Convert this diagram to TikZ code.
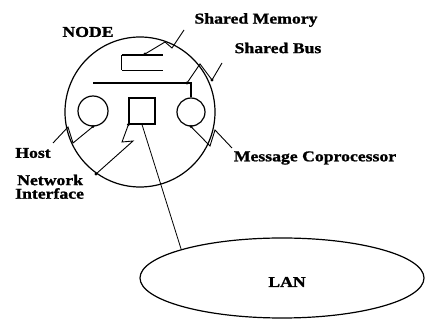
\documentclass[tikz,border=0pt]{standalone}
\usepackage{fontspec}
\setmainfont{Liberation Serif}[FakeStretch=1.18, BoldFeatures={FakeBold=1.2}]
\usetikzlibrary{shapes.geometric}
\begin{document}
\begin{tikzpicture}[x=1pt,y=-1pt,
 lbl/.style={font=\fontsize{15}{13}\selectfont\bfseries, inner sep=0pt},
 ring/.style={draw, circle, line width=1.2pt, inner sep=0pt},
 ptr/.style={line width=0.9pt, line join=miter},
 dot/.style={circle, fill, inner sep=0pt, minimum size=3.2pt}]
\useasboundingbox[fill=white] (0,0) rectangle (426,320);
% shapes
\node[ring, minimum size=150pt] (nd) at (140,112) {};
\node[ring, minimum size=30pt] (host) at (93,111) {};
\node[draw, line width=1.1pt, minimum size=26pt, inner sep=0pt] (ni) at (142,111) {};
\node[ring, minimum size=28pt] (mc) at (191,112) {};
\node[minimum width=41pt, minimum height=15pt, inner sep=0pt] (mem) at (142.5,62.5) {};
\draw[line width=0.8pt] (mem.north west) -- (mem.south west);
\draw[line width=1.5pt] (mem.north west) -- (mem.north east);
\draw[line width=1.1pt] (mem.south west) -- (mem.south east);
\node[draw, ellipse, line width=1.2pt, minimum width=284pt, minimum height=80pt, inner sep=0pt] (lan) at (282,278) {};
% labels
\node[lbl] (lanl) at (287,282) {LAN};
\node[lbl] (ndl) at (88,32) {NODE};
\node[lbl] (meml) at (256,20) {Shared Memory};
\node[lbl] (busl) at (278,48) {Shared Bus};
\node[lbl] (hostl) at (33,153) {Host};
\node[lbl, anchor=west] (nil1) at (17,180) {Network};
\node[lbl, anchor=west] (nil2) at (15,193.5) {Interface};
\node[lbl] (mcl) at (315,158) {Message Coprocessor};
% bus
\coordinate (bl) at (93,83);
\coordinate (br) at (191,83);
\draw[line width=1.2pt] (bl) -- (br) -- (mc.north);
% pointers
\coordinate (m1) at (184,30);
\coordinate (m2) at (145,54);
\draw[ptr] (m1) -- (172,48) -- (165,42) -- (m2);
\node[dot] (d1) at (m2) {};
\coordinate (b1) at (222,63);
\coordinate (b2) at (187,83);
\draw[ptr] (b1) -- (212,80) -- (200,64) -- (b2);
\node[dot] (d2) at (b2) {};
\node[dot] (d3) at (212,80) {};
\coordinate (h1) at (53,143);
\draw[ptr] (h1) -- (68,127) -- (73,143) -- (host.south);
\node[dot] (d4) at (host.south) {};
\coordinate (n1) at (96,174);
\draw[ptr] (n1) -- (133,141) -- (122,142) -- (ni.south west);
\node[dot] (d5) at (ni.south west) {};
\coordinate (c1) at (232,148);
\draw[ptr] (c1) -- (215,130) -- (210,146) -- (mc.south);
\node[dot] (d6) at (mc.south) {};
\node[dot] (d7) at (96,174) {};
% link to LAN
\draw[line width=0.8pt] (ni.south) -- (lan.north west);
\end{tikzpicture}
\end{document}
